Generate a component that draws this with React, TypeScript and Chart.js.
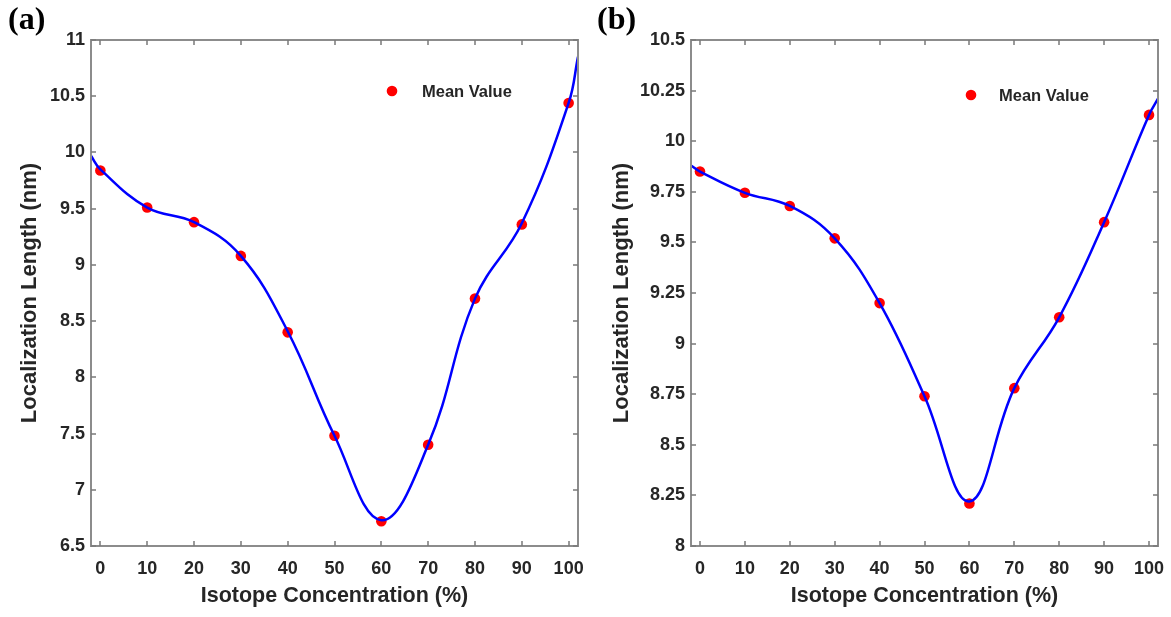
import React, { useEffect, useRef } from "react";
import { Chart, registerables } from "chart.js";

Chart.register(...registerables);

// ---------- data ----------
const concentrations = [0, 10, 20, 30, 40, 50, 60, 70, 80, 90, 100];
const meanA = [9.84, 9.51, 9.38, 9.08, 8.4, 7.48, 6.72, 7.4, 8.7, 9.36, 10.44];
const meanB = [9.85, 9.745, 9.68, 9.52, 9.2, 8.74, 8.21, 8.78, 9.13, 9.6, 10.13];

// fitted curve (extends past both ends of the data)
const fitXA = [-2, 0, 10, 20, 30, 40, 50, 60, 70, 80, 90, 100, 102];
const fitA = [9.97, 9.85, 9.51, 9.38, 9.08, 8.41, 7.48, 6.73, 7.4, 8.7, 9.37, 10.44, 10.85];
const fitXB = [-2, 0, 10, 20, 30, 40, 50, 60, 70, 80, 90, 100, 102];
const fitB = [9.88, 9.85, 9.745, 9.68, 9.52, 9.2, 8.74, 8.22, 8.78, 9.13, 9.6, 10.13, 10.21];

const xTicks = [0, 10, 20, 30, 40, 50, 60, 70, 80, 90, 100];
const yTicksA = [6.5, 7, 7.5, 8, 8.5, 9, 9.5, 10, 10.5, 11];
const yTicksB = [8, 8.25, 8.5, 8.75, 9, 9.25, 9.5, 9.75, 10, 10.25, 10.5];

const legendLabel = "Mean Value";
const xTitle = "Isotope Concentration (%)";
const yTitle = "Localization Length (nm)";

const TEXT = "#262626";
const FONT = "'Liberation Sans', Arial, sans-serif";

type PanelCfg = {
  width: number;
  height: number;
  yAxisWidth: number;
  rightPad: number;
  yTitlePad: number;
  xMin: number;
  xMax: number;
  yMin: number;
  yMax: number;
  yTicks: number[];
  means: number[];
  fitX: number[];
  fitY: number[];
  legendDot: [number, number];
  legendTextX: number;
};

const boxPlugin = {
  id: "matlabBox",
  afterDatasetsDraw(chart: any) {
    const { ctx, chartArea } = chart;
    const { left, right, top, bottom } = chartArea;
    const xs = chart.scales.x;
    const ys = chart.scales.y;
    ctx.save();
    ctx.strokeStyle = "#8c8c8c";
    ctx.lineWidth = 2;
    ctx.strokeRect(left, top, right - left, bottom - top);
    ctx.strokeStyle = "#7a7a7a";
    ctx.lineWidth = 1.5;
    const tl = 5;
    ctx.beginPath();
    xs.ticks.forEach((t: any) => {
      const px = Math.round(xs.getPixelForValue(t.value));
      ctx.moveTo(px, bottom);
      ctx.lineTo(px, bottom - tl);
      ctx.moveTo(px, top);
      ctx.lineTo(px, top + tl);
    });
    ys.ticks.forEach((t: any) => {
      const py = Math.round(ys.getPixelForValue(t.value));
      ctx.moveTo(left, py);
      ctx.lineTo(left + tl, py);
      ctx.moveTo(right, py);
      ctx.lineTo(right - tl, py);
    });
    ctx.stroke();
    ctx.restore();
  },
};

const legendPlugin = {
  id: "insideLegend",
  afterDraw(chart: any) {
    const cfg = chart.options.plugins.insideLegend;
    if (!cfg) return;
    const { ctx } = chart;
    ctx.save();
    ctx.fillStyle = "#ff0000";
    ctx.beginPath();
    ctx.arc(cfg.dot[0], cfg.dot[1], 5.3, 0, Math.PI * 2);
    ctx.fill();
    ctx.fillStyle = TEXT;
    ctx.font = `bold 16.5px ${FONT}`;
    ctx.textBaseline = "middle";
    ctx.textAlign = "left";
    ctx.fillText(cfg.text, cfg.textX, cfg.dot[1] + 1);
    ctx.restore();
  },
};

function Panel({ cfg }: { cfg: PanelCfg }) {
  const ref = useRef<HTMLCanvasElement | null>(null);
  useEffect(() => {
    if (!ref.current) return;
    const chart = new Chart(ref.current, {
      type: "line",
      data: {
        datasets: [
          {
            label: "fit",
            data: cfg.fitX.map((x, i) => ({ x, y: cfg.fitY[i] })),
            borderColor: "#0000ff",
            borderWidth: 2.5,
            pointRadius: 0,
            tension: 0.4,
            fill: false,
          },
          {
            label: legendLabel,
            data: concentrations.map((x, i) => ({ x, y: cfg.means[i] })),
            showLine: false,
            pointRadius: 5.3,
            pointBackgroundColor: "#ff0000",
            pointBorderWidth: 0,
            borderColor: "#ff0000",
          },
        ],
      },
      options: {
        responsive: false,
        animation: false,
        devicePixelRatio: 1,
        layout: { autoPadding: false, padding: { top: 40, right: cfg.rightPad, left: 0, bottom: 0 } },
        plugins: {
          legend: { display: false },
          tooltip: { enabled: false },
          // @ts-ignore
          insideLegend: { dot: cfg.legendDot, textX: cfg.legendTextX, text: legendLabel },
        },
        scales: {
          x: {
            type: "linear",
            min: cfg.xMin,
            max: cfg.xMax,
            grid: { display: false, drawTicks: false },
            border: { display: false },
            afterBuildTicks: (s: any) => {
              s.ticks = xTicks.map((v) => ({ value: v }));
            },
            afterFit: (s: any) => {
              s.height = 71;
              s.paddingLeft = 0;
              s.paddingRight = 0;
            },
            ticks: {
              autoSkip: false,
              maxRotation: 0,
              padding: 12,
              color: TEXT,
              font: { family: FONT, size: 18, weight: "bold" },
              callback: (v: any) => String(v),
            },
            title: {
              display: true,
              text: xTitle,
              color: TEXT,
              font: { family: FONT, size: 21.5, weight: "bold" },
              padding: { top: 0, bottom: 8 },
            },
          },
          y: {
            type: "linear",
            min: cfg.yMin,
            max: cfg.yMax,
            grid: { display: false, drawTicks: false },
            border: { display: false },
            afterBuildTicks: (s: any) => {
              s.ticks = cfg.yTicks.map((v) => ({ value: v }));
            },
            afterFit: (s: any) => {
              s.width = cfg.yAxisWidth;
              s.paddingTop = 0;
              s.paddingBottom = 0;
            },
            ticks: {
              autoSkip: false,
              padding: 6,
              color: TEXT,
              font: { family: FONT, size: 18, weight: "bold" },
              callback: (v: any) => String(v),
            },
            title: {
              display: true,
              text: yTitle,
              color: TEXT,
              font: { family: FONT, size: 22, weight: "bold" },
              padding: { top: cfg.yTitlePad, bottom: 0 },
            },
          },
        },
      },
      plugins: [boxPlugin, legendPlugin],
    } as any);
    return () => chart.destroy();
  }, [cfg]);
  return <canvas ref={ref} width={cfg.width} height={cfg.height} style={{ display: "block" }} />;
}

const cfgA: PanelCfg = {
  width: 585,
  height: 617,
  yAxisWidth: 91,
  rightPad: 7,
  yTitlePad: 17,
  xMin: -2,
  xMax: 102,
  yMin: 6.5,
  yMax: 11,
  yTicks: yTicksA,
  means: meanA,
  fitX: fitXA,
  fitY: fitA,
  legendDot: [392, 91],
  legendTextX: 422,
};

const cfgB: PanelCfg = {
  width: 586,
  height: 617,
  yAxisWidth: 106,
  rightPad: 13,
  yTitlePad: 24,
  xMin: -2,
  xMax: 102,
  yMin: 8,
  yMax: 10.5,
  yTicks: yTicksB,
  means: meanB,
  fitX: fitXB,
  fitY: fitB,
  legendDot: [386, 95],
  legendTextX: 414,
};

const letterStyle: React.CSSProperties = {
  position: "absolute",
  top: 2,
  fontFamily: "'Liberation Serif', 'Times New Roman', serif",
  fontWeight: "bold",
  fontSize: 32,
  lineHeight: "32px",
  color: "#000",
};

export default function App() {
  return (
    <div style={{ position: "absolute", left: 0, top: 0, width: 1171, height: 617, background: "#fff" }}>
      <div style={{ position: "absolute", left: 0, top: 0 }}>
        <Panel cfg={cfgA} />
      </div>
      <div style={{ position: "absolute", left: 585, top: 0 }}>
        <Panel cfg={cfgB} />
      </div>
      <div style={{ ...letterStyle, left: 8 }}>(a)</div>
      <div style={{ ...letterStyle, left: 597 }}>(b)</div>
    </div>
  );
}
